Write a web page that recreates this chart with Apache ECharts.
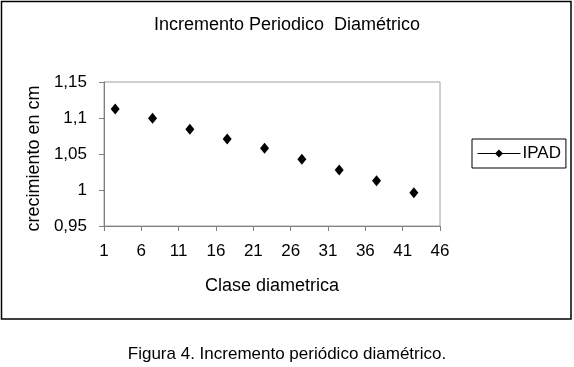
<!DOCTYPE html>
<html>
<head>
<meta charset="utf-8">
<script src="https://cdn.jsdelivr.net/npm/echarts@6/dist/echarts.min.js"></script>
<style>
html,body{margin:0;padding:0;background:#fff;}
#chart{width:574px;height:367px;}
</style>
</head>
<body>
<div id="chart"></div>
<script>
const classMid = [2.5, 7.5, 12.5, 17.5, 22.5, 27.5, 32.5, 37.5, 42.5];
const ipad = [1.1125, 1.0996, 1.0843, 1.0708, 1.0579, 1.0426, 1.0278, 1.0129, 0.9962];
const xTicks = [1, 6, 11, 16, 21, 26, 31, 36, 41, 46];
const yTicks = [0.95, 1, 1.05, 1.1, 1.15];

const font = 'Liberation Sans, Arial, sans-serif';
const chart = echarts.init(document.getElementById('chart'), null, {renderer: 'canvas'});
chart.setOption({
  animation: false,
  backgroundColor: '#fff',
  title: [
    {text: 'Incremento Periodico  Diamétrico', left: 'center', top: 11,
     textStyle: {fontFamily: font, fontSize: 18, fontWeight: 'normal', color: '#000'}},
    {text: 'Figura 4. Incremento periódico diamétrico.', left: 'center', top: 341,
     textStyle: {fontFamily: font, fontSize: 17, fontWeight: 'normal', color: '#000'}}
  ],
  graphic: [
    {type: 'rect', shape: {x: 1.5, y: 1.5, width: 569.5, height: 317.5},
     style: {fill: 'none', stroke: '#000', lineWidth: 1.5}, silent: true, z: -1}
  ],
  legend: {
    left: 472, top: 139,
    padding: [6, 5, 6, 5],
    borderColor: '#000', borderWidth: 1,
    itemWidth: 43, itemHeight: 10,
    textStyle: {fontFamily: font, fontSize: 17, color: '#000', padding: [0, 0, 0, -3]},
    lineStyle: {width: 1, color: '#000', opacity: 1},
    data: ['IPAD']
  },
  grid: {left: 104, right: 134, top: 82, bottom: 141, show: true, borderColor: '#a0a0a0', borderWidth: 1},
  xAxis: {
    type: 'value', min: 1, max: 46,
    name: 'Clase diametrica', nameLocation: 'middle', nameGap: 51,
    nameTextStyle: {fontFamily: font, fontSize: 18, color: '#000'},
    axisLine: {show: true, lineStyle: {color: '#808080'}},
    axisTick: {show: true, length: 5, lineStyle: {color: '#808080'}, customValues: xTicks},
    axisLabel: {fontFamily: font, fontSize: 17, color: '#000', margin: 17, customValues: xTicks},
    splitLine: {show: false}
  },
  yAxis: {
    type: 'value', min: 0.95, max: 1.15, interval: 0.05,
    name: 'crecimiento en cm', nameLocation: 'middle', nameGap: 61, nameRotate: 90,
    nameTextStyle: {fontFamily: font, fontSize: 18, color: '#000', padding: [0, 9, 0, 0]},
    axisLine: {show: true, lineStyle: {color: '#808080'}},
    axisTick: {show: true, length: 5, lineStyle: {color: '#808080'}},
    axisLabel: {fontFamily: font, fontSize: 17, color: '#000', margin: 17,
      formatter: v => String(Math.round(v * 100) / 100).replace('.', ',')},
    splitLine: {show: false}
  },
  series: [{
    name: 'IPAD', type: 'line',
    data: classMid.map((x, i) => [x, ipad[i]]),
    symbol: 'diamond', symbolSize: [9, 11],
    itemStyle: {color: '#000'},
    lineStyle: {width: 0, opacity: 0}
  }]
});
</script>
</body>
</html>
